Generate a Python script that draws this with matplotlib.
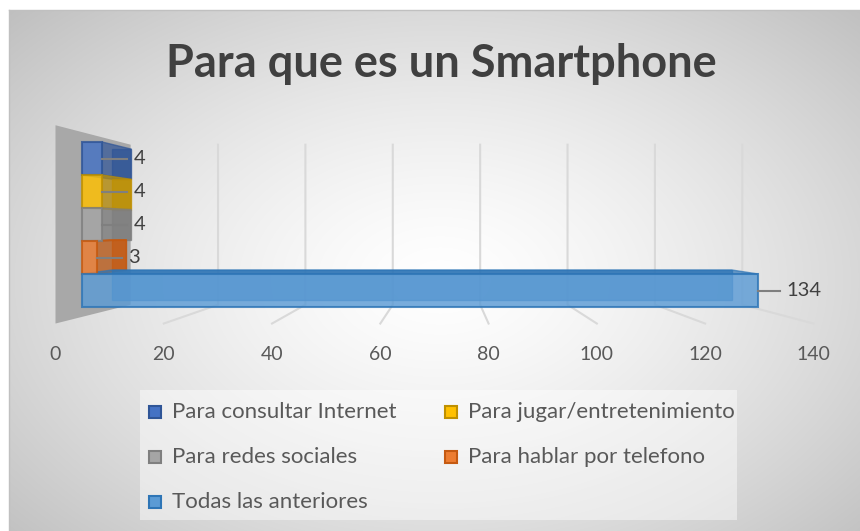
import numpy as np
import matplotlib.pyplot as plt
from matplotlib.patches import Polygon, Rectangle

# datos de la encuesta
categorias = ['Para consultar Internet', 'Para jugar/entretenimiento',
              'Para redes sociales', 'Para hablar por telefono',
              'Todas las anteriores']
valores = [4, 4, 4, 3, 134]
colores = ['#4472C4', '#FFC000', '#A5A5A5', '#ED7D31', '#5B9BD5']
bordes = ['#2F5597', '#BF9000', '#7F7F7F', '#C55A11', '#2E75B6']
ticks = [0, 20, 40, 60, 80, 100, 120, 140]
titulo = 'Para que es un Smartphone'

W, H = 860, 531
plt.rcParams['font.family'] = ['Lato', 'DejaVu Sans']
fig = plt.figure(figsize=(W / 100, H / 100), dpi=100)

# fondo con degradado radial
bg = fig.add_axes([0, 0, 1, 1])
bg.set_axis_off()
yy, xx = np.mgrid[0:H, 0:W]
d = np.hypot((xx - 440) / 440, (yy - 280) / 290)
g = 1 - 0.25 * np.clip(d / 1.35, 0, 1) ** 1.4
img = np.dstack([g, g, g])
img[:10, :] = 1
img[:, :9] = 1
bg.imshow(img, extent=[0, W, H, 0], aspect='auto', interpolation='bilinear')
bg.plot([9, W], [10, 10], color='#c0c0c0', lw=1)
bg.plot([9, 9], [10, H], color='#c0c0c0', lw=1)
bg.set_xlim(0, W)
bg.set_ylim(H, 0)

# ejes principales (plano frontal de las barras)
ax = fig.add_axes([0, 0, 1, 1])
ax.set_axis_off()
ax.patch.set_alpha(0)
UX, UY = 5.045, 33.0
ax.set_xlim(-82 / UX, (W - 82) / UX)
ax.set_ylim((H - 142) / UY, -142 / UY)

# perspectiva: punto de fuga y profundidades
VPX, VPY = (445 - 82) / UX, (226 - 142) / UY
K_CAJA, K_FRENTE, K_FONDO, K_PARED = 1.073, 1.0, 0.916, 0.866
Y_SUP, Y_INF = -0.3, 5.3


def p(x, y, k):
    return (VPX + k * (x - VPX), VPY + k * (y - VPY))


# pared lateral
ax.add_patch(Polygon([p(0, Y_SUP, K_CAJA), p(0, Y_INF, K_CAJA),
                      p(0, Y_INF, K_PARED), p(0, Y_SUP, K_PARED)],
                     closed=True, facecolor='#a8a8a8', edgecolor='none', zorder=1))

# lineas de division en la pared y el suelo
for t in ticks[1:]:
    x0, y0 = p(t, Y_SUP, K_PARED)
    x1, y1 = p(t, Y_INF, K_PARED)
    x2, y2 = p(t, Y_INF, K_CAJA)
    ax.plot([x0, x1, x2], [y0, y1, y2], color='#d9d9d9', lw=1.5, zorder=1)

for t in ticks:
    ax.text(p(t, 0, K_CAJA)[0], (355 - 142) / UY, str(t), ha='center', va='center',
            fontsize=14, color='#595959')

# barras 3D
for i, (v, c, b) in enumerate(zip(valores, colores, bordes)):
    y0, y1 = i, i + 1
    caras = [[p(0, y0, K_FONDO), p(v, y0, K_FONDO), p(v, y1, K_FONDO), p(0, y1, K_FONDO)]]
    if y0 > VPY:
        caras.append([p(0, y0, 1), p(v, y0, 1), p(v, y0, K_FONDO), p(0, y0, K_FONDO)])
    if y1 < VPY:
        caras.append([p(0, y1, 1), p(v, y1, 1), p(v, y1, K_FONDO), p(0, y1, K_FONDO)])
    if v < VPX:
        caras.append([p(v, y0, 1), p(v, y1, 1), p(v, y1, K_FONDO), p(v, y0, K_FONDO)])
    for cara in caras:
        ax.add_patch(Polygon(cara, closed=True, facecolor=b, edgecolor=b,
                             alpha=0.7, lw=1, zorder=2))

for i, (v, c, b) in enumerate(zip(valores, colores, bordes)):
    ax.barh(i + 0.5, v, height=1, left=0, color=c, edgecolor=b, lw=1.5,
            alpha=0.82, zorder=3)
    xl = v + 5 if v < 100 else v + 4.4
    ax.plot([v, xl], [i + 0.5, i + 0.5], color='#7f7f7f', lw=1.5, zorder=4)
    ax.text(xl + 1.2, i + 0.5, str(v), ha='left', va='center', fontsize=14.5,
            color='#404040', zorder=5)

# titulo
fig.text(441 / W, 1 - 64 / H, titulo, ha='center', va='center', fontsize=32.5,
         fontweight='bold', color='#404040')

# leyenda
bg.add_patch(Rectangle((140, 390), 597, 130, facecolor='white', alpha=0.45,
                       edgecolor='none'))
pos = [(155, 412), (451, 412), (155, 457), (451, 457), (155, 502)]
for (x, y), nom, c, b in zip(pos, categorias, colores, bordes):
    bg.add_patch(Rectangle((x - 6, y - 6), 12, 12, facecolor=c, edgecolor=b, lw=1.5))
    bg.text(x + 17, y, nom, ha='left', va='center', fontsize=16, color='#595959')

fig.savefig('out.png', dpi=100)
